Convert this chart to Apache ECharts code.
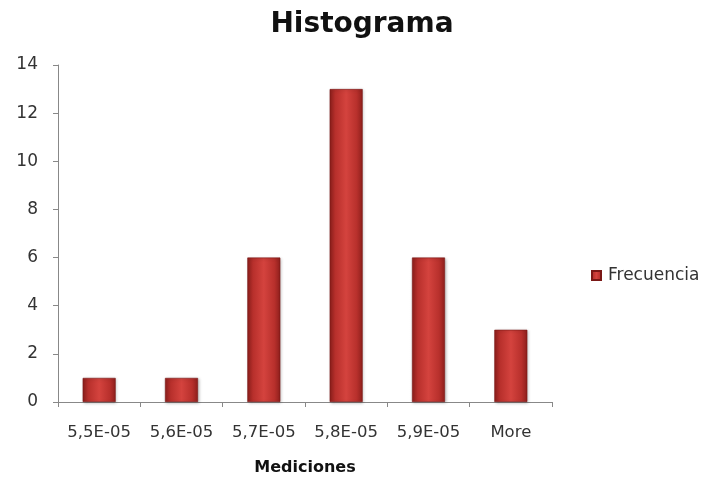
<!DOCTYPE html>
<html>
<head>
<meta charset="utf-8">
<script src="https://cdn.jsdelivr.net/npm/echarts@6/dist/echarts.min.js"></script>
<style>
  html, body { margin: 0; padding: 0; background: #fff; }
  #chart { width: 704px; height: 482px; }
</style>
</head>
<body>
<div id="chart"></div>
<script>
// Histogram bins and counts
const categories = ['5,5E-05', '5,6E-05', '5,7E-05', '5,8E-05', '5,9E-05', 'More'];
const frecuencia = [1, 1, 6, 13, 6, 3];
const yTicks = { min: 0, max: 14, interval: 2 };

const font = '"DejaVu Sans", "Open Sans", sans-serif';

// Cylinder-like shading across each bar
const barFill = new echarts.graphic.LinearGradient(0, 0, 1, 0, [
  { offset: 0, color: '#8e1f1c' },
  { offset: 0.18, color: '#b8302c' },
  { offset: 0.5, color: '#d4433e' },
  { offset: 0.82, color: '#b8302c' },
  { offset: 1, color: '#8e1f1c' }
]);

const chart = echarts.init(document.getElementById('chart'), null, { renderer: 'canvas' });
chart.setOption({
  animation: false,
  backgroundColor: '#ffffff',
  title: {
    text: 'Histograma',
    left: 357,
    textAlign: 'center',
    top: 6,
    textStyle: { fontFamily: font, fontSize: 28, fontWeight: 'bold', color: '#111' }
  },
  legend: {
    data: ['Frecuencia'],
    orient: 'vertical',
    left: 586,
    top: 262,
    itemWidth: 9,
    itemHeight: 9,
    itemGap: 6,
    icon: 'rect',
    textStyle: { fontFamily: font, fontSize: 17, color: '#333', padding: [0, 0, 0, 2] }
  },
  grid: { left: 58, top: 65, width: 494, height: 337 },
  xAxis: {
    type: 'category',
    data: categories,
    name: 'Mediciones',
    nameLocation: 'middle',
    nameGap: 58,
    nameTextStyle: { fontFamily: font, fontSize: 16, fontWeight: 'bold', color: '#111' },
    axisLine: { lineStyle: { color: '#888', width: 1 } },
    axisTick: { show: true, length: 5, lineStyle: { color: '#888' } },
    axisLabel: { fontFamily: font, fontSize: 16.5, color: '#333', margin: 22, interval: 0, hideOverlap: false }
  },
  yAxis: {
    type: 'value',
    min: yTicks.min,
    max: yTicks.max,
    interval: yTicks.interval,
    axisLine: { show: true, lineStyle: { color: '#888', width: 1 } },
    axisTick: { show: true, length: 5, lineStyle: { color: '#888' } },
    splitLine: { show: false },
    axisLabel: { fontFamily: font, fontSize: 17, color: '#333', margin: 20 }
  },
  series: [{
    name: 'Frecuencia',
    type: 'bar',
    data: frecuencia,
    barWidth: 33,
    itemStyle: {
      color: barFill,
      borderColor: '#7a1816',
      borderWidth: 0.6,
      shadowColor: 'rgba(0,0,0,0.25)',
      shadowBlur: 3,
      shadowOffsetX: 1,
      shadowOffsetY: 1
    }
  }]
});
</script>
</body>
</html>
